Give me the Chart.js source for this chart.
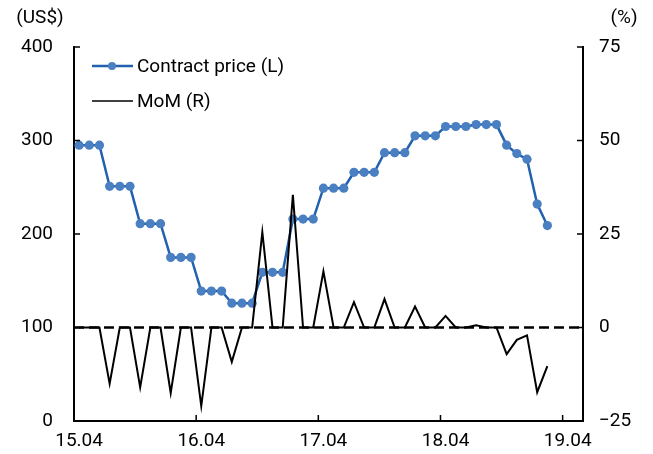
<!DOCTYPE html>
<html>
<head>
<meta charset="utf-8">
<script src="https://cdn.jsdelivr.net/npm/chart.js@4.4.1/dist/chart.umd.min.js"></script>
<style>
  html, body { margin: 0; padding: 0; background: #fff; }
  #wrap { width: 653px; height: 454px; }
</style>
</head>
<body>
<div id="wrap"><canvas id="myChart"></canvas></div>
<script>
// months on the x axis (axis runs to 19.05)
const months = [
  '15.04', '15.05', '15.06', '15.07', '15.08', '15.09', '15.10', '15.11', '15.12', '16.01', '16.02', '16.03',
  '16.04', '16.05', '16.06', '16.07', '16.08', '16.09', '16.10', '16.11', '16.12', '17.01', '17.02', '17.03',
  '17.04', '17.05', '17.06', '17.07', '17.08', '17.09', '17.10', '17.11', '17.12', '18.01', '18.02', '18.03',
  '18.04', '18.05', '18.06', '18.07', '18.08', '18.09', '18.10', '18.11', '18.12', '19.01', '19.02', '19.03',
  '19.04', '19.05',
];
const shownMonths = ['15.04', '16.04', '17.04', '18.04', '19.04'];

// contract price, US$ (left axis)
const contractPrice = [
  295, 295, 295, 251, 251, 251, 211, 211, 211, 175, 175, 175,
  139, 139, 139, 126, 126, 126, 159, 159, 159, 216, 216, 216,
  249, 249, 249, 266, 266, 266, 287, 287, 287, 305, 305, 305,
  315, 315, 315, 317, 317, 317, 295, 286, 280, 232, 209,
];

// month-on-month change, % (right axis)
const mom = [
  0, 0, 0, -15, 0, 0, -16, 0, 0, -17.5, 0, 0,
  -21, 0, 0, -9.2, 0, 0, 25.5, 0, 0, 35.5, 0, 0,
  15, 0, 0, 6.8, 0, 0, 7.6, 0, 0, 5.6, 0, 0,
  3.1, 0, 0, 0.6, 0, 0, -7.1, -3.3, -2.1, -17.3, -10.3,
];

const leftTicks = [0, 100, 200, 300, 400];
const rightTicks = [-25, 0, 25, 50, 75];

const FONT = 'Roboto';
const ctx = document.getElementById('myChart').getContext('2d');

// little tick marks pointing into the plot, like the original
const insideTicks = {
  id: 'insideTicks',
  afterDraw(chart) {
    const { ctx, chartArea: a, scales } = chart;
    ctx.save();
    ctx.strokeStyle = '#000';
    ctx.lineWidth = 1.5;
    ctx.beginPath();
    leftTicks.forEach((v) => {
      const y = scales.y.getPixelForValue(v);
      ctx.moveTo(a.left, y);
      ctx.lineTo(a.left + 6, y);
    });
    rightTicks.forEach((v) => {
      const y = scales.y1.getPixelForValue(v);
      ctx.moveTo(a.right, y);
      ctx.lineTo(a.right - 6, y);
    });
    months.forEach((m, i) => {
      if (i % 12 === 0 && i > 0) {
        const x = (scales.x.getPixelForValue(i - 1) + scales.x.getPixelForValue(i)) / 2;
        ctx.moveTo(x, a.bottom);
        ctx.lineTo(x, a.bottom - 6);
      }
    });
    ctx.stroke();
    ctx.restore();
  },
};

// dashed zero line of the MoM axis
const zeroLine = {
  id: 'zeroLine',
  beforeDatasetsDraw(chart) {
    const { ctx, chartArea: a, scales } = chart;
    const y = scales.y1.getPixelForValue(0);
    ctx.save();
    ctx.strokeStyle = '#000';
    ctx.lineWidth = 2.5;
    ctx.setLineDash([10, 5]);
    ctx.beginPath();
    ctx.moveTo(a.left, y);
    ctx.lineTo(a.right, y);
    ctx.stroke();
    ctx.restore();
  },
};

// unit labels and the legend inside the plot
const extras = {
  id: 'extras',
  afterDraw(chart) {
    const { ctx } = chart;
    ctx.save();
    ctx.fillStyle = '#000';
    ctx.font = `19px ${FONT}`;
    ctx.textBaseline = 'middle';
    ctx.textAlign = 'center';
    ctx.fillText('(US$)', 40, 18);
    ctx.fillText('(%)', 624, 18);

    ctx.textAlign = 'left';
    ctx.lineWidth = 2.5;
    ctx.strokeStyle = '#2161ad';
    ctx.beginPath();
    ctx.moveTo(92, 66);
    ctx.lineTo(133, 66);
    ctx.stroke();
    ctx.fillStyle = '#4a7fc1';
    ctx.beginPath();
    ctx.arc(112, 66, 4, 0, Math.PI * 2);
    ctx.fill();
    ctx.fillStyle = '#000';
    ctx.fillText('Contract price (L)', 137, 67);

    ctx.strokeStyle = '#000';
    ctx.lineWidth = 1.5;
    ctx.beginPath();
    ctx.moveTo(92, 101);
    ctx.lineTo(133, 101);
    ctx.stroke();
    ctx.fillText('MoM (R)', 137, 102);
    ctx.restore();
  },
};

const tickFont = { family: FONT, size: 19 };

const chart = new Chart(ctx, {
  type: 'line',
  data: {
    labels: months,
    datasets: [
      {
        label: 'MoM (R)',
        data: mom,
        yAxisID: 'y1',
        borderColor: '#000',
        borderWidth: 2,
        pointRadius: 0,
        tension: 0,
      },
      {
        label: 'Contract price (L)',
        data: contractPrice,
        yAxisID: 'y',
        borderColor: '#2161ad',
        borderWidth: 2.5,
        pointRadius: 4.6,
        pointBackgroundColor: '#4a7fc1',
        pointBorderColor: '#4a7fc1',
        pointBorderWidth: 0,
        tension: 0,
      },
    ],
  },
  plugins: [zeroLine, insideTicks, extras],
  options: {
    responsive: true,
    maintainAspectRatio: false,
    animation: false,
    layout: { padding: { top: 47, left: 0, right: 0, bottom: 0 } },
    plugins: {
      legend: { display: false },
      tooltip: { enabled: false },
    },
    scales: {
      x: {
        type: 'category',
        offset: true,
        grid: { display: false, drawTicks: false },
        border: { display: true, color: '#000', width: 2 },
        ticks: {
          autoSkip: false,
          maxRotation: 0,
          color: '#000',
          font: tickFont,
          padding: 9,
          callback(value, index) {
            const m = months[index];
            return shownMonths.includes(m) ? m : '';
          },
        },
        afterFit(scale) { scale.height = 33; },
      },
      y: {
        position: 'left',
        min: 0,
        max: 400,
        grid: { display: false, drawTicks: false },
        border: { display: true, color: '#000', width: 2 },
        ticks: { stepSize: 100, color: '#000', font: tickFont, padding: 21 },
        afterFit(scale) { scale.width = 74; },
      },
      y1: {
        position: 'right',
        min: -25,
        max: 75,
        grid: { display: false, drawTicks: false },
        border: { display: true, color: '#000', width: 2 },
        ticks: {
          stepSize: 25,
          color: '#000',
          font: tickFont,
          padding: 16,
          callback: (v) => String(v).replace('-', '\u2212'),
        },
        afterFit(scale) { scale.width = 70; },
      },
    },
  },
});
</script>
</body>
</html>
